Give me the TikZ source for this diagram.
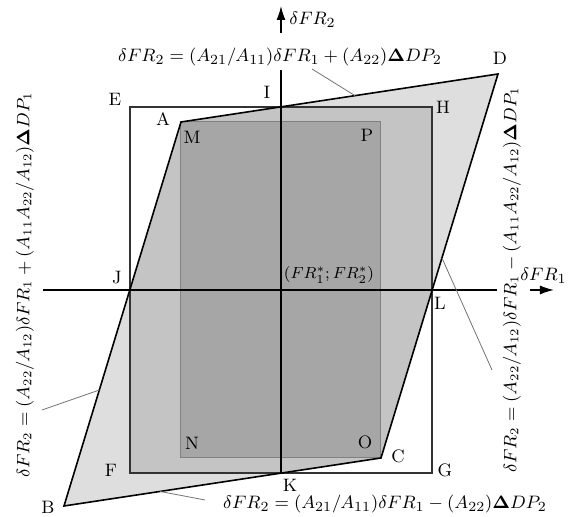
\documentclass[tikz,border=0pt]{standalone}
\usepackage{amsmath,amssymb}
\usepackage{tikz}
\usetikzlibrary{arrows.meta,calc}

\tikzset{
  pt/.style={font=\small, inner sep=1pt},
  eqn/.style={font=\fontsize{9.5}{11}\selectfont, inner sep=2pt},
  eqv/.style={eqn, font=\fontsize{9}{11}\selectfont, rotate=90, inner sep=3pt},
  leader/.style={draw=black!55, line width=0.4pt},
  axis/.style={line width=0.7pt},
}

\begin{document}
\begin{tikzpicture}[x=0.5pt,y=0.5pt]
\useasboundingbox (-281,-227) rectangle (289,290);
\coordinate (O) at (0,0);
\coordinate (E) at (-151,183);
\coordinate (H) at (151,183);
\coordinate (G) at (151,-183);
\coordinate (F) at (-151,-183);
\coordinate (M) at (-100,168);
\coordinate (P) at (100,168);
\coordinate (Oc) at (100,-168);
\coordinate (N) at (-100,-168);
\coordinate (A) at (-100,168);
\coordinate (D) at (217,216);
\coordinate (C) at (100,-168);
\coordinate (B) at (-217,-216);
\coordinate (K) at (0,-183);
% shaded areas
\fill[black!13] (A) -- (D) -- (C) -- (B) -- cycle;
\begin{scope}
\clip (A) -- (D) -- (C) -- (B) -- cycle;
\fill[black!23] (E) rectangle (G);
\end{scope}
\filldraw[fill=black!35, draw=black!50, line width=0.5pt] (M) rectangle (Oc);
\draw[line width=0.7pt, black!80] (E) rectangle (G);
\draw[line width=0.8pt] (A) -- (D) -- (C) -- (B) -- cycle;
% equations
\node[eqn] (eqT) at (-1,233) {$\delta FR_2=(A_{21}/A_{11})\delta FR_1+(A_{22})\boldsymbol{\Delta} DP_2$};
\node[eqn] (eqB) at (104,-214) {$\delta FR_2=(A_{21}/A_{11})\delta FR_1-(A_{22})\boldsymbol{\Delta} DP_2$};
\node[eqv] (eqL) at (-256,5) {$\delta FR_2=(A_{22}/A_{12})\delta FR_1+(A_{11}A_{22}/A_{12})\boldsymbol{\Delta} DP_1$};
\node[eqv] (eqR) at (231,10) {$\delta FR_2=(A_{22}/A_{12})\delta FR_1-(A_{11}A_{22}/A_{12})\boldsymbol{\Delta} DP_1$};
% axes
\coordinate (xl) at (-238,0);
\coordinate (xa) at (249,0);
\coordinate (xr) at (273,0);
\coordinate (ya) at (0,257);
\coordinate (yt) at (0,284);
\draw[axis] (xl) -- (eqR.north |- O);
\draw[axis, -{Latex[length=7pt,width=4.5pt]}] (xa) -- (xr);
\draw[axis] (K) -- (O |- eqT.south);
\draw[axis, -{Latex[length=7pt,width=4.5pt]}] (ya) -- (yt);
\node[eqn, anchor=south east] (ax1) at (290,2) {$\delta FR_1$};
\node[eqn, anchor=west] (ax2) at (4,270) {$\delta FR_2$};
% leader lines
\coordinate (tAD) at ($(A)!0.549!(D)$);
\coordinate (tCD) at ($(C)!0.521!(D)$);
\coordinate (tAB) at ($(A)!0.698!(B)$);
\coordinate (tBC) at ($(B)!0.303!(C)$);
\coordinate (eT) at (31,221);
\coordinate (eR) at (211,-80);
\coordinate (eL) at (-239,-120);
\coordinate (eB) at (-76,-210);
\draw[leader] (eT) -- (tAD);
\draw[leader] (eR) -- (tCD);
\draw[leader] (eL) -- (tAB);
\draw[leader] (tBC) -- (eB);
% point labels
\node[pt] (lE) at (-166,191) {E};
\node[pt] (lI) at (-14,198) {I};
\node[pt] (lH) at (162,183) {H};
\node[pt] (lA) at (-118,171) {A};
\node[pt] (lM) at (-89,153) {M};
\node[pt] (lP) at (86,155) {P};
\node[pt] (lD) at (219,232) {D};
\node[pt] (lJ) at (-164,12) {J};
\node[pt] (lL) at (159,-13) {L};
\node[eqn, font=\fontsize{8.5}{10}\selectfont] (lFR) at (48,15) {$(FR_1^{*};FR_2^{*})$};
\node[pt] (lN) at (-89,-153) {N};
\node[pt] (lO) at (84,-152) {O};
\node[pt] (lC) at (117,-166) {C};
\node[pt] (lF) at (-170,-180) {F};
\node[pt] (lG) at (164,-180) {G};
\node[pt] (lK) at (9,-195) {K};
\node[pt] (lB) at (-233,-217) {B};
\end{tikzpicture}
\end{document}
